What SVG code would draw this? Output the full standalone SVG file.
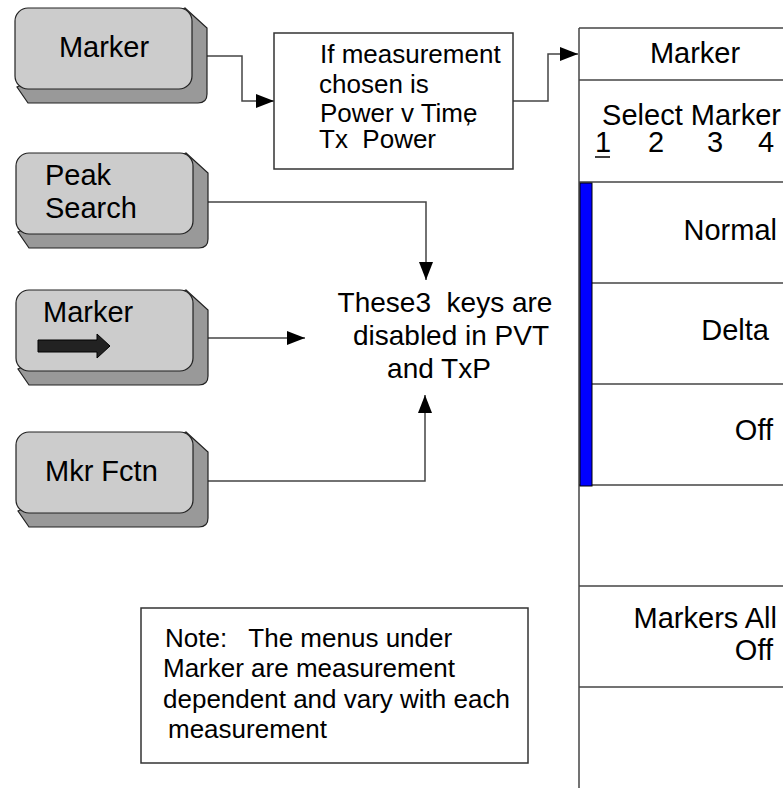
<svg xmlns="http://www.w3.org/2000/svg" xmlns:xlink="http://www.w3.org/1999/xlink" width="783" height="788" viewBox="0 0 783 788">
<style>
text{font-family:"Liberation Sans",Arial,sans-serif;fill:#000;white-space:pre}
.k{font-size:29px}
.m{font-size:29px}
.b{font-size:26px}
.c{font-size:28px}
.conn{fill:none;stroke:#444;stroke-width:1.5}
.box{fill:#fff;stroke:#333;stroke-width:1.5}
.sep{stroke:#444;stroke-width:1.5}
.face{fill:#cccccc;stroke:#222;stroke-width:1.2}
.shadow{fill:#999999;stroke:#222;stroke-width:1.2}
</style>
<defs>
<marker id="ah" markerUnits="userSpaceOnUse" markerWidth="18" markerHeight="14" refX="18" refY="7" orient="auto">
<path d="M0,0 L18,7 L0,14 Z" fill="#000"/>
</marker>
<g id="key">
<path class="shadow" d="M170,0 L192,20 L192,86 Q192,95 183,95 L13,95 L2,79 Z"/>
<rect class="face" x="0" y="0" width="177" height="81" rx="13"/>
</g>
</defs>
<rect width="783" height="788" fill="#fff"/>

<g id="connectors">
<path class="conn" d="M205,56 H242 V101 H274" marker-end="url(#ah)"/>
<path class="conn" d="M513,101 H548 V54 H578" marker-end="url(#ah)"/>
<path class="conn" d="M208,202 H426 V280" marker-end="url(#ah)"/>
<path class="conn" d="M208,338 H305" marker-end="url(#ah)"/>
<path class="conn" d="M208,481 H425 V395" marker-end="url(#ah)"/>
</g>

<g id="key-marker">
<use xlink:href="#key" x="15" y="8"/>
<text class="k" x="104" y="57" text-anchor="middle">Marker</text>
</g>

<g id="key-peak-search">
<use xlink:href="#key" x="16" y="153"/>
<text class="k" x="45" y="185">Peak</text>
<text class="k" x="45" y="218">Search</text>
</g>

<g id="key-marker-arrow">
<use xlink:href="#key" x="16" y="290"/>
<text class="k" x="43" y="322">Marker</text>
<path d="M38,340 H97 V334 L110,346 L97,358 V352 H38 Z" fill="#222" stroke="#000" stroke-width="1"/>
</g>

<g id="key-mkr-fctn">
<use xlink:href="#key" x="16" y="432"/>
<text class="k" x="45" y="481">Mkr Fctn</text>
</g>

<g id="condition-box">
<rect class="box" x="274" y="33" width="239" height="136"/>
<text class="b" x="320" y="63">If measurement</text>
<text class="b" x="319" y="93">chosen is</text>
<text class="b" x="320" y="122">Power v Time<tspan dx="-13">,</tspan></text>
<text class="b" x="319" y="148">Tx  Power</text>
</g>

<g id="disabled-note">
<text class="c" x="445" y="312" text-anchor="middle">These<tspan>3  keys are</tspan></text>
<text class="c" x="451" y="345" text-anchor="middle">disabled in PVT</text>
<text class="c" x="439" y="378" text-anchor="middle">and TxP</text>
</g>

<g id="note-box">
<rect class="box" x="141" y="608" width="387" height="155"/>
<text class="b" x="165" y="647">Note:   The menus under</text>
<text class="b" x="163" y="677">Marker are measurement</text>
<text class="b" x="163" y="708">dependent and vary with each</text>
<text class="b" x="168" y="738">measurement</text>
</g>

<g id="marker-menu">
<line class="sep" x1="579" y1="28" x2="579" y2="788"/>
<line class="sep" x1="579" y1="28" x2="783" y2="28"/>
<line class="sep" x1="579" y1="80" x2="783" y2="80"/>
<line class="sep" x1="579" y1="182" x2="783" y2="182"/>
<line class="sep" x1="592" y1="283" x2="783" y2="283"/>
<line class="sep" x1="592" y1="384" x2="783" y2="384"/>
<line class="sep" x1="579" y1="485" x2="783" y2="485"/>
<line class="sep" x1="579" y1="586" x2="783" y2="586"/>
<line class="sep" x1="579" y1="687" x2="783" y2="687"/>
<rect x="580" y="183" width="12" height="303" fill="#0000ff" stroke="#000" stroke-width="1"/>
<text class="m" x="695" y="63" text-anchor="middle">Marker</text>
<text class="m" x="781" y="125" text-anchor="end">Select Marker</text>
<text class="m" x="595" y="152">1</text>
<line x1="595" y1="157" x2="610" y2="157" stroke="#000" stroke-width="1.5"/>
<text class="m" x="648" y="152">2</text>
<text class="m" x="707" y="152">3</text>
<text class="m" x="758" y="152">4</text>
<text class="m" x="777" y="240" text-anchor="end">Normal</text>
<text class="m" x="769" y="340" text-anchor="end">Delta</text>
<text class="m" x="773" y="440" text-anchor="end">Off</text>
<text class="m" x="777" y="628" text-anchor="end">Markers All</text>
<text class="m" x="773" y="660" text-anchor="end">Off</text>
</g>
</svg>
